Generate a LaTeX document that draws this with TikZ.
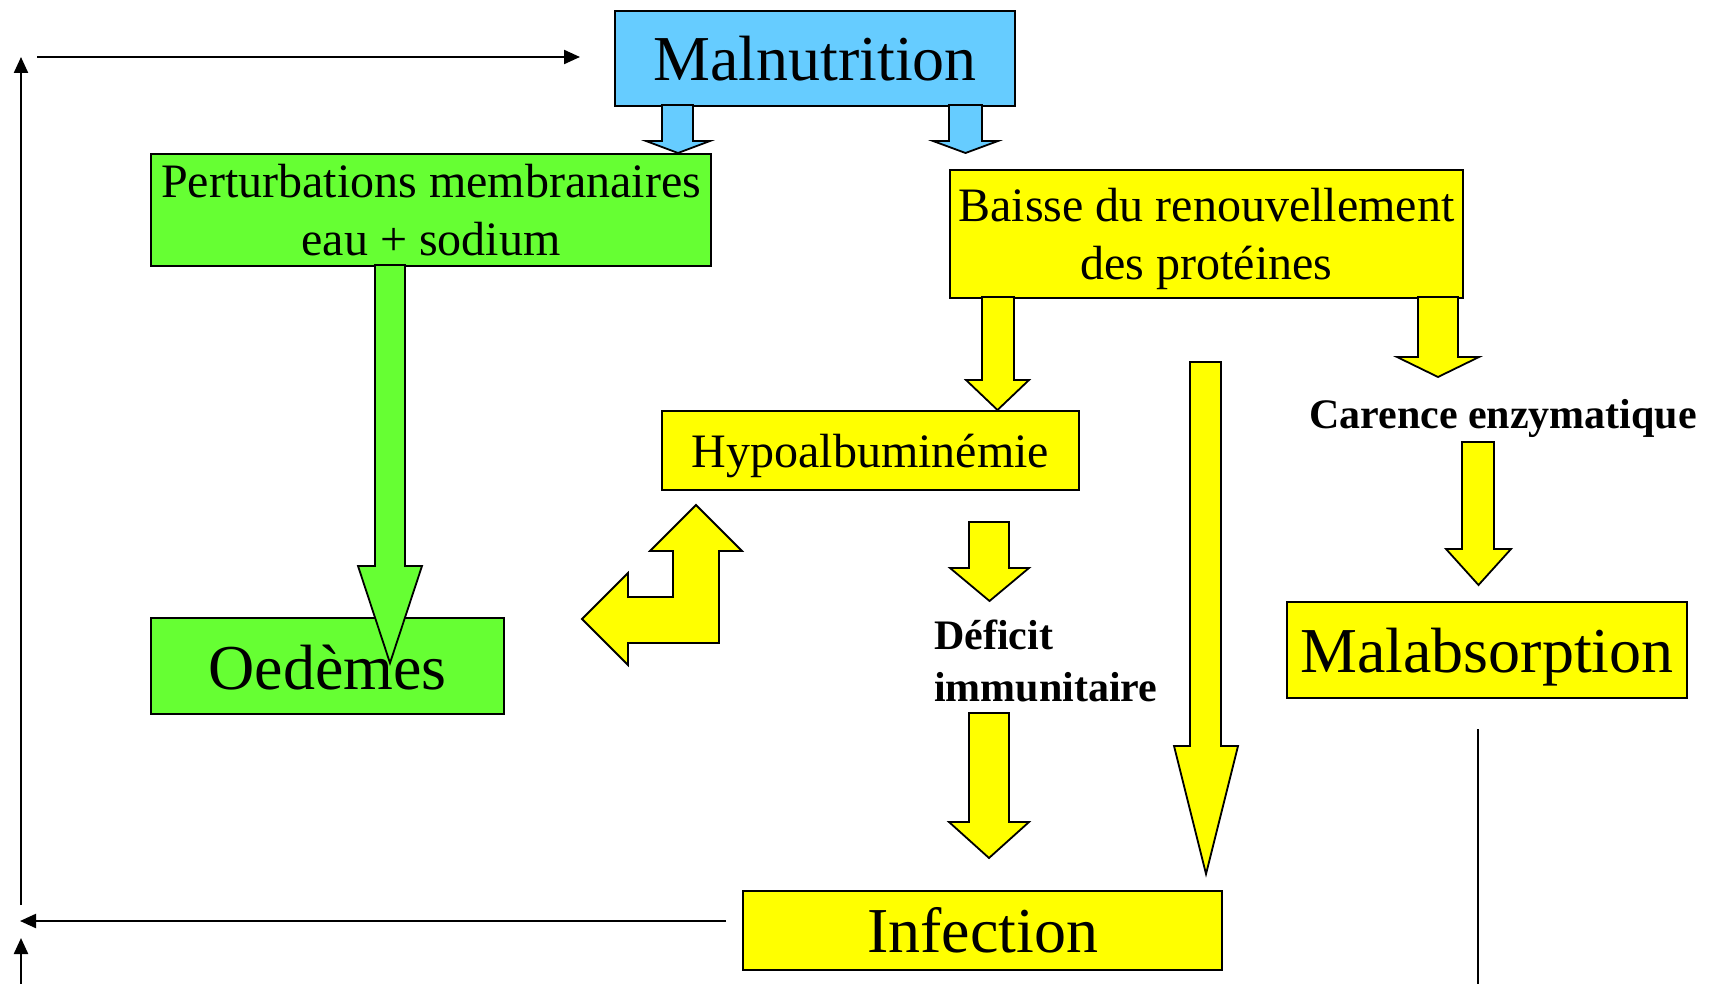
\documentclass[tikz,border=0pt]{standalone}
\usepackage{fontspec}
\setmainfont{Liberation Serif}
\usetikzlibrary{arrows.meta}

\definecolor{malblue}{HTML}{66CCFF}
\definecolor{memgreen}{HTML}{66FF33}
\definecolor{protyellow}{HTML}{FFFF00}

% block arrow pointing down: fill, shaft x1, shaft x2, top y, head x1, head x2, head y, tip y
\newcommand{\dnarrow}[8]{%
  \draw[blockarrow,fill=#1] (#2,#4) -- (#3,#4) -- (#3,#7) -- (#6,#7)
    -- ({(#5+#6)/2},#8) -- (#5,#7) -- (#2,#7) -- cycle;}

\begin{document}
\begin{tikzpicture}[x=1pt,y=-1pt,
  box/.style={draw=black,line width=2pt,inner sep=0pt,anchor=north west,align=center},
  big/.style={font=\fontsize{64}{70}\selectfont},
  mid/.style={font=\fontsize{48}{58}\selectfont},
  note/.style={font=\fontsize{42}{52}\selectfont\bfseries,inner sep=0pt},
  blockarrow/.style={draw=black,line width=1.8pt,line join=miter},
  link/.style={draw=black,line width=2.2pt,-{Triangle[length=16pt,width=14pt]}}]

\useasboundingbox (0,0) rectangle (1713,984);

% boxes
\node[box,big,fill=malblue,minimum width=400pt,minimum height=95pt] (mal) at (614,10) {Malnutrition};
\node[box,mid,fill=memgreen,minimum width=560pt,minimum height=112pt] (memb) at (150,153)
  {Perturbations membranaires\\eau + sodium};
\node[box,mid,fill=protyellow,minimum width=513pt,minimum height=128pt,text depth=0pt] (prot) at (949,169)
  {Baisse du renouvellement\\des protéines};
\node[box,mid,fill=protyellow,minimum width=417pt,minimum height=79pt,text depth=0pt] (hypo) at (661,410) {Hypoalbuminémie};
\node[box,fill=memgreen,minimum width=353pt,minimum height=96pt] (oed) at (150,617) {};
\node[box,big,fill=protyellow,minimum width=400pt,minimum height=96pt,text depth=0pt] (malab) at (1286,601) {Malabsorption};
\node[box,big,fill=protyellow,minimum width=479pt,minimum height=79pt] (inf) at (742,890) {Infection};

% plain labels
\node[note,anchor=base] (car) at (1503,428) {Carence enzymatique};
\node[note,anchor=base west,align=left] (def) at (934,701) {Déficit\\immunitaire};

% block arrows
\dnarrow{malblue}{662}{693}{105}{646}{710}{141}{153}
\dnarrow{malblue}{949}{982}{105}{933}{998}{141}{153}
\dnarrow{memgreen}{375}{405}{265}{358}{422}{566}{663}
\node[big] (oedtext) at ([yshift=-2pt]oed.center) {Oedèmes};
\dnarrow{protyellow}{982}{1014}{297}{966}{1029}{380}{410}
\dnarrow{protyellow}{1418}{1458}{297}{1397}{1479}{357}{377}
\dnarrow{protyellow}{1462}{1494}{442}{1446}{1511}{549}{585}
\dnarrow{protyellow}{1190}{1221}{362}{1174}{1238}{746}{874}
\dnarrow{protyellow}{969}{1009}{522}{950}{1029}{568}{601}
\dnarrow{protyellow}{969}{1009}{713}{949}{1029}{822}{858}

% two-way bent arrow next to the hypoalbuminaemia box
\draw[blockarrow,fill=protyellow] (696,505) -- (742,551) -- (719,551) -- (719,643)
  -- (628,643) -- (628,665) -- (582,619) -- (628,573) -- (628,597) -- (673,597)
  -- (673,551) -- (650,551) -- cycle;

% feedback loop lines
\coordinate (topstart) at (37,57);
\coordinate (topend) at (580,57);
\coordinate (loopcorner) at (21,57);
\coordinate (loopfoot) at (21,905);
\coordinate (infstart) at (726,921);
\coordinate (infend) at (20,921);
\coordinate (lowfoot) at (21,984);
\coordinate (lowtip) at (21,938);
\coordinate (rtop) at (1478,729);
\coordinate (rbot) at (1478,984);

\draw[link] (topstart) -- (topend);
\draw[link] (loopfoot) -- (loopcorner);
\draw[link] (infstart) -- (infend);
\draw[link] (lowfoot) -- (lowtip);
\draw[line width=2.5pt] (rtop) -- (rbot);

\end{tikzpicture}
\end{document}
